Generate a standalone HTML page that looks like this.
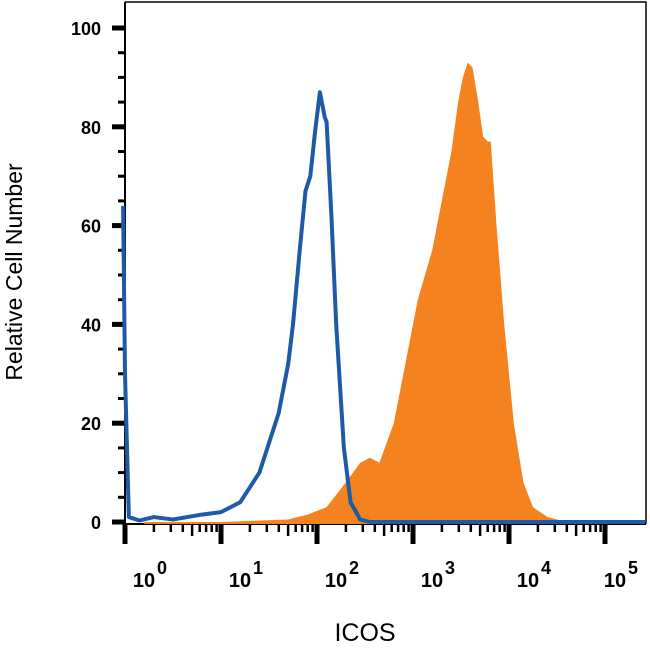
<!DOCTYPE html>
<html><head><meta charset="utf-8"><style>
body{margin:0;background:#fff}
svg{display:block}
text{font-family:"Liberation Sans",sans-serif}
</style></head><body>
<svg id="chart" width="650" height="650">
<g id="axes"></g><g id="series"></g>
<text x="365" y="641" text-anchor="middle" font-size="25">ICOS</text>
<text transform="translate(22,272) rotate(-90)" text-anchor="middle" font-size="23">Relative Cell Number</text>
</svg>
<script>
// data (x in decades, log10 of intensity; y in relative cell number)
const yTicks=[0,20,40,60,80,100];
const xDecades=[0,1,2,3,4,5];
const blueX=[-0.02,0.0,0.04,0.15,0.3,0.5,0.8,1.0,1.2,1.3,1.4,1.5,1.6,1.7,1.75,1.82,1.88,1.93,1.98,2.03,2.08,2.1,2.15,2.2,2.28,2.35,2.45,2.55,3.0,4.0,5.5];
const blueY=[64,30,1,0.3,1,0.5,1.5,2,4,7,10,16,22,32,40,55,67,70,79,87,82,81,62,40,15,4,0.5,0,0,0,0];
const orangeX=[0.2,1.0,1.7,1.9,2.1,2.3,2.45,2.55,2.65,2.8,2.95,3.05,3.2,3.3,3.4,3.47,3.52,3.57,3.62,3.68,3.73,3.78,3.81,3.87,3.95,4.05,4.15,4.25,4.4,4.6];
const orangeY=[0,0,0.5,1.5,3,8,12,13,12,20,35,45,55,65,75,85,90,93,92,85,78,77,77,60,40,20,8,3,1,0];
const NS="http://www.w3.org/2000/svg";
const L=125,R=646,T=2,B=524,DEC=96;
const xs=d=>L+d*DEC;
const ys=v=>522-4.94*v;
const ax=document.getElementById('axes'),se=document.getElementById('series');
function mk(tag,attrs,parent){const e=document.createElementNS(NS,tag);for(const k in attrs)e.setAttribute(k,attrs[k]);parent.appendChild(e);return e;}
let fr=mk('path',{d:`M${L} ${T}H${R}V${B}`,fill:'none',stroke:'#000','stroke-width':1.5},ax);


let ya=mk('line',{x1:L,y1:T,x2:L,y2:B+2,stroke:'#000','stroke-width':2},ax);


let xa=mk('line',{x1:L-2,y1:B,x2:R,y2:B,stroke:'#000','stroke-width':2},ax);


for(let v=0;v<=100;v+=5){
  const maj=v%20===0;
  mk('line',{x1:maj?L-13:L-7,x2:L,y1:ys(v),y2:ys(v),stroke:'#000','stroke-width':maj?5:3},ax);
}
yTicks.forEach(v=>{
  const t=mk('text',{x:101,y:ys(v)+7,'text-anchor':'end','font-size':18,'font-weight':'bold'},ax);
  t.textContent=v;
  
  
});
xDecades.forEach(d=>{
  mk('line',{x1:xs(d),x2:xs(d),y1:B,y2:B+20,stroke:'#000','stroke-width':5},ax);
  if(d<5)for(let m=2;m<=9;m++){
    const x=xs(d+Math.log10(m));
    mk('line',{x1:x,x2:x,y1:B,y2:B+(m===5?12:8),stroke:'#000','stroke-width':2.5},ax);
  }
  const off=d===5?-9:0;
  const t=mk('text',{x:xs(d)+19+off,y:587,'text-anchor':'middle','font-size':20,'font-weight':'bold'},ax);
  t.textContent='10';
  
  
  const s=mk('text',{x:xs(d)+37+off,y:574,'text-anchor':'middle','font-size':18,'font-weight':'bold'},ax);
  s.textContent=d;
  
  
});
let od=`M${xs(orangeX[0])} ${B}`;
orangeX.forEach((x,i)=>od+=`L${xs(x)} ${ys(orangeY[i])}`);
od+=`L${xs(orangeX[orangeX.length-1])} ${B}Z`;
const op=mk('path',{d:od,fill:'#f4821f',stroke:'none'},se);


let bd='';
blueX.forEach((x,i)=>bd+=(i?'L':'M')+Math.min(xs(x),R-1)+' '+ys(blueY[i]));
const bp=mk('path',{d:bd,fill:'none',stroke:'#1f5aa8','stroke-width':4,'stroke-linejoin':'round'},se);


</script>
</body></html>
